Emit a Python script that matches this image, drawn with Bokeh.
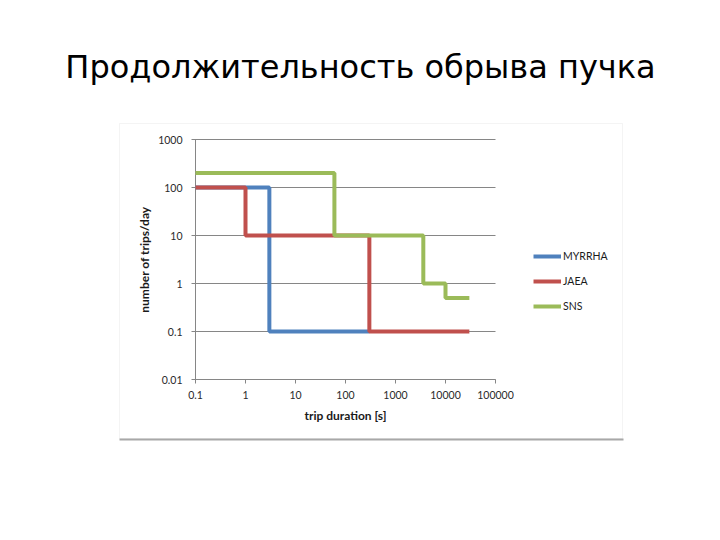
from bokeh.plotting import figure
from bokeh.embed import file_html
from bokeh.resources import INLINE
from bokeh.models import Label, PolyAnnotation, BoxAnnotation, FixedTicker, Legend, LegendItem

# ---- data ----
title_text = "Продолжительность обрыва пучка"
x_ticks = [0.1, 1, 10, 100, 1000, 10000, 100000]
x_tick_labels = ["0.1", "1", "10", "100", "1000", "10000", "100000"]
y_ticks = [0.01, 0.1, 1, 10, 100, 1000]
y_tick_labels = ["0.01", "0.1", "1", "10", "100", "1000"]

series_names = ["MYRRHA", "JAEA", "SNS"]
myrrha_x = [0.1, 3, 300]
myrrha_y = [100, 0.1, 0.1]
jaea_x = [0.1, 1, 300, 30000]
jaea_y = [100, 10, 0.1, 0.1]
sns_x = [0.1, 60, 3600, 10000, 30000]
sns_y = [200, 10, 1, 0.5, 0.5]
colors = ["#4F81BD", "#C0504D", "#9BBB59"]

FONT = "Lato"

# ---- layout in pixels (page) ----
W, H = 704, 524
PX_L, PX_R = 195, 495      # x pixels of 0.1 and 100000
PY_T, PY_B = 139, 379      # y pixels of 1000 and 0.01
xdec = (PX_R - PX_L) / 6.0
ydec = (PY_B - PY_T) / 5.0
x_lo = 10 ** (-1 - PX_L / xdec)
x_hi = 10 ** (-1 + (W - PX_L) / xdec)
y_hi = 10 ** (3 + PY_T / ydec)
y_lo = 10 ** (-2 - (H - PY_B) / ydec)

p = figure(width=W, height=H, x_axis_type="log", y_axis_type="log",
           x_range=(x_lo, x_hi), y_range=(y_lo, y_hi),
           output_backend="svg", toolbar_location=None, min_border=0)
p.outline_line_color = None
p.background_fill_color = "white"
p.border_fill_color = "white"
p.grid.visible = False

renderers = []
for xs, ys, c in zip([myrrha_x, jaea_x, sns_x], [myrrha_y, jaea_y, sns_y], colors):
    renderers.append(p.step(xs, ys, mode="after", line_width=4, line_color=c, level="overlay"))

# axes placed at the chart's corner
p.xaxis.fixed_location = y_ticks[0]
p.yaxis.fixed_location = x_ticks[0]
p.xaxis.bounds = (x_ticks[0], x_ticks[-1])
p.yaxis.bounds = (y_ticks[0], y_ticks[-1])
p.xaxis.ticker = FixedTicker(ticks=x_ticks)
p.yaxis.ticker = FixedTicker(ticks=y_ticks)
p.xaxis.major_label_overrides = {t: l for t, l in zip(x_ticks, x_tick_labels)}
p.yaxis.major_label_overrides = {t: l for t, l in zip(y_ticks, y_tick_labels)}
for ax in (p.xaxis[0], p.yaxis[0]):
    ax.axis_line_color = "#868686"
    ax.major_tick_line_color = "#868686"
    ax.major_tick_out = 4
    ax.major_tick_in = 0
    ax.minor_tick_line_color = None
    ax.major_label_text_font = FONT
    ax.major_label_text_font_size = "10.5px"
    ax.major_label_text_color = "#2a2a2a"
    ax.axis_label_text_font = FONT
    ax.axis_label_text_font_size = "12px"
    ax.axis_label_text_font_style = "bold"
    ax.axis_label_text_color = "#1a1a1a"
p.xaxis.major_label_standoff = 7
p.yaxis.major_label_standoff = 9
p.xaxis.axis_label_standoff = 6
p.yaxis.axis_label_standoff = 3
# horizontal gridlines as inward ticks spanning the plot width
p.yaxis.major_tick_in = PX_R - PX_L
p.xaxis.axis_label = "trip duration [s]"
p.yaxis.axis_label = "number of trips/day"

# legend
lg = Legend(items=[LegendItem(label=n, renderers=[r]) for n, r in zip(series_names, renderers)],
            location=(533, H - 316))
lg.border_line_color = None
lg.background_fill_alpha = 0
lg.padding = 0
lg.margin = 0
lg.spacing = 5
lg.glyph_width = 28
lg.glyph_height = 20
lg.label_height = 20
lg.label_standoff = 2
lg.label_text_font = FONT
lg.label_text_font_size = "10.5px"
lg.label_text_color = "#1a1a1a"
p.add_layout(lg)

# chart box border
p.add_layout(PolyAnnotation(xs=[119, 622, 622, 119], ys=[H - 123, H - 123, H - 438, H - 438],
                            xs_units="screen", ys_units="screen",
                            fill_alpha=0, line_color="#dcdcdc", line_width=1))
p.add_layout(BoxAnnotation(left=119, right=623, bottom=H - 440, top=H - 438,
                           left_units="screen", right_units="screen",
                           top_units="screen", bottom_units="screen",
                           fill_color="#a8a8a8", fill_alpha=1, line_color=None))

# slide title
p.add_layout(Label(x=360, y=H - 66, x_units="screen", y_units="screen", text=title_text,
                   text_align="center", text_baseline="alphabetic",
                   text_font="DejaVu Sans", text_font_size="32px", text_color="black"))

open("out.html", "w").write(file_html(p, INLINE))
